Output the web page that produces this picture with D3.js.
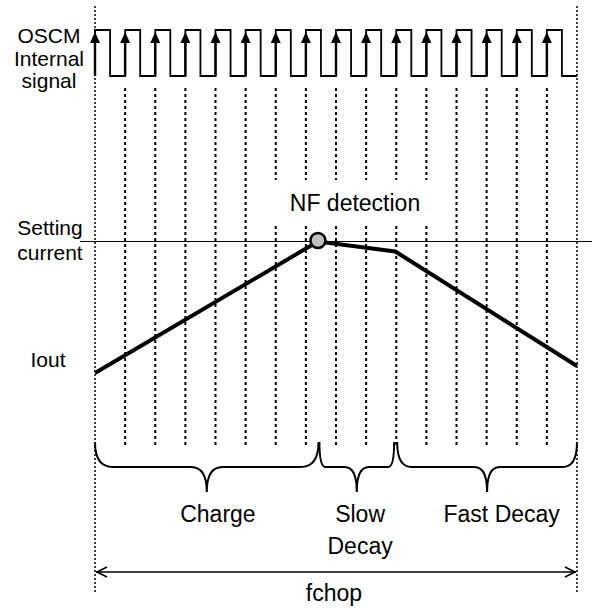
<!DOCTYPE html>
<html><head><meta charset="utf-8">
<script src="https://cdn.jsdelivr.net/npm/d3@7"></script>
<style>html,body{margin:0;padding:0;background:#fff}svg{display:block}</style>
</head><body><div id="chart"></div>
<script>
// ---- data (time in clock periods, current as fraction of setting current) ----
const clockEdges = [0,1,2,3,4,5,6,7,8,9,10,11,12,13,14,15];
const periodEnd = 16;
const dutyHigh = 0.5;
const ioutTime  = [0, 7.4, 9.97, 16];
const ioutLevel = [0, 1.0, 0.924, 0.053];
const detectTime = 7.4;
const phaseNames = [["Charge"], ["Slow","Decay"], ["Fast Decay"]];
const phaseStart = [0, 7.45, 10.03];
const phaseEnd   = [7.42, 9.93, 16];
const phaseLabelAt = [4.08, 8.8, 13.5];
const signalLabel = ["OSCM","Internal","signal"];
const settingLabel = ["Setting","current"];
const ioutLabel = "Iout";
const detectLabel = "NF detection";
const periodLabel = "fchop";

const W = 592, H = 610;
const svg = d3.select("#chart").append("svg").attr("width", W).attr("height", H);
const font = "'Liberation Sans', Arial, Helvetica, sans-serif";

const x = d3.scaleLinear().domain([0, periodEnd]).range([95, 577]);
const yWave = d3.scaleLinear().domain([0, 1]).range([76, 30]);
const yCur = d3.scaleLinear().domain([0, 1]).range([373, 241.5]);

// interior dashed lines
const g = svg.append("g");
g.selectAll("line.grid").data(clockEdges.slice(1)).join("line")
  .attr("x1", d => x(d)).attr("x2", d => x(d))
  .attr("y1", 88).attr("y2", 446)
  .attr("stroke", "#000").attr("stroke-width", 2).attr("stroke-dasharray", "3,3");
// boundary dotted lines
g.selectAll("line.bound").data([0, periodEnd]).join("line")
  .attr("x1", d => x(d)).attr("x2", d => x(d))
  .attr("y1", 6).attr("y2", 593)
  .attr("stroke", "#000").attr("stroke-width", 1.5).attr("stroke-dasharray", "2,2");

// white box behind NF detection label
svg.append("rect").attr("x", 262).attr("y", 180).attr("width", 180).attr("height", 46).attr("fill", "#fff");

// square wave
const wavePts = [];
clockEdges.forEach((t, i) => {
  wavePts.push([t, 0], [t, 1], [t + dutyHigh, 1], [t + dutyHigh, 0]);
});
wavePts.push([periodEnd, 0]);
svg.append("path")
  .attr("d", d3.line().x(d => x(d[0])).y(d => yWave(d[1]))(wavePts))
  .attr("fill", "none").attr("stroke", "#000").attr("stroke-width", 1.8);

// rising-edge arrows
clockEdges.forEach(t => {
  const cx = x(t);
  svg.append("line").attr("x1", cx).attr("x2", cx).attr("y1", yWave(0)).attr("y2", yWave(1) + 8)
    .attr("stroke", "#000").attr("stroke-width", 2.4);
  svg.append("path").attr("d", `M${cx},${yWave(1) + 2} L${cx - 5},${yWave(1) + 13} L${cx + 5},${yWave(1) + 13} Z`)
    .attr("fill", "#000");
});

// setting current line
svg.append("line").attr("x1", 80).attr("x2", W).attr("y1", yCur(1)).attr("y2", yCur(1))
  .attr("stroke", "#000").attr("stroke-width", 1.2);

// Iout
svg.append("path")
  .attr("d", d3.line().x((d, i) => x(ioutTime[i])).y((d, i) => yCur(ioutLevel[i]))(ioutTime))
  .attr("fill", "none").attr("stroke", "#000").attr("stroke-width", 4).attr("stroke-linejoin", "round");

// detection marker
svg.append("circle").attr("cx", x(detectTime)).attr("cy", yCur(1) - 1).attr("r", 7.5)
  .attr("fill", "#c0c0c0").attr("stroke", "#000").attr("stroke-width", 2.6);

// braces
function brace(x0, x1, yTop, yMid, yTip) {
  const w = x1 - x0, c = w * 0.08, m = Math.max(12, w * 0.07), xm = (x0 + x1) / 2;
  return `M${x0},${yTop} Q${x0},${yMid} ${x0 + c},${yMid} L${xm - m},${yMid} Q${xm},${yMid} ${xm},${yTip}` +
         ` Q${xm},${yMid} ${xm + m},${yMid} L${x1 - c},${yMid} Q${x1},${yMid} ${x1},${yTop}`;
}
phaseStart.forEach((s, i) => {
  svg.append("path").attr("d", brace(x(s), x(phaseEnd[i]), 442, 467, 492))
    .attr("fill", "none").attr("stroke", "#000").attr("stroke-width", 2);
});

// double arrow
const ya = 572;
svg.append("line").attr("x1", x(0) + 1).attr("x2", x(periodEnd) - 1).attr("y1", ya).attr("y2", ya)
  .attr("stroke", "#000").attr("stroke-width", 1.4);
[[x(0) + 2, 1], [x(periodEnd) - 2, -1]].forEach(([px, dir]) => {
  svg.append("path").attr("d", `M${px + dir * 10},${ya - 5} L${px},${ya} L${px + dir * 10},${ya + 5}`)
    .attr("fill", "none").attr("stroke", "#000").attr("stroke-width", 1.6);
});

// text
function txt(s, cx, by, size) {
  svg.append("text").attr("x", cx).attr("y", by).attr("text-anchor", "middle")
    .attr("font-family", font).attr("font-size", size).attr("fill", "#000").text(s);
}
signalLabel.forEach((s, i) => txt(s, 49, 43 + i * 22.5, 21));
settingLabel.forEach((s, i) => txt(s, 50, 235 + i * 25, 21));
txt(ioutLabel, 48, 367, 21);
txt(detectLabel, 355, 211, 23);
phaseNames.forEach((lines, i) => lines.forEach((s, j) => txt(s, x(phaseLabelAt[i]), 522 + j * 32, 23)));
txt(periodLabel, 334, 601, 23);
</script></body></html>
